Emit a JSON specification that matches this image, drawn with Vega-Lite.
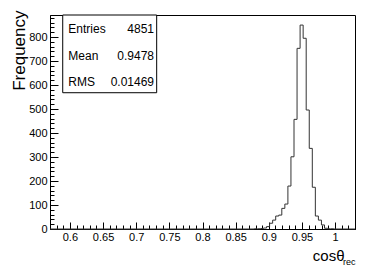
{
  "$schema": "https://vega.github.io/schema/vega-lite/v6.json",
  "autosize": {"type": "none"},
  "padding": {"left": 50, "top": 15, "right": 27, "bottom": 37},
  "width": 305,
  "height": 214,
  "background": "white",
  "config": {
    "font": "Liberation Sans",
    "view": {"stroke": "black", "strokeWidth": 1},
    "axis": {"domainColor": "black", "tickColor": "black", "labelColor": "black", "titleColor": "black", "grid": false, "titleFontWeight": "normal", "labelFont": "Liberation Sans", "titleFont": "Liberation Sans"}
  },
  "datasets": {
    "hist": [
      {"x": 0.57, "count": 0},
      {"x": 0.8782, "count": 1},
      {"x": 0.8828, "count": 1},
      {"x": 0.8874, "count": 2},
      {"x": 0.892, "count": 4},
      {"x": 0.8966, "count": 10},
      {"x": 0.9012, "count": 24},
      {"x": 0.9058, "count": 37},
      {"x": 0.9104, "count": 54},
      {"x": 0.915, "count": 58},
      {"x": 0.9196, "count": 86},
      {"x": 0.9242, "count": 104},
      {"x": 0.9288, "count": 179},
      {"x": 0.9334, "count": 301},
      {"x": 0.938, "count": 457},
      {"x": 0.9426, "count": 753},
      {"x": 0.9472, "count": 850},
      {"x": 0.9518, "count": 795},
      {"x": 0.9564, "count": 496},
      {"x": 0.961, "count": 336},
      {"x": 0.9656, "count": 174},
      {"x": 0.9702, "count": 54},
      {"x": 0.9748, "count": 37},
      {"x": 0.9794, "count": 17},
      {"x": 0.984, "count": 3},
      {"x": 0.9886, "count": 1},
      {"x": 0.9932, "count": 1},
      {"x": 0.9978, "count": 0},
      {"x": 1.03, "count": 0}
    ],
    "stats": [
      {"label": "Entries", "value": "4851"},
      {"label": "Mean", "value": "0.9478"},
      {"label": "RMS", "value": "0.01469"}
    ]
  },
  "layer": [
    {
      "data": {"name": "hist"},
      "mark": {"type": "line", "interpolate": "step-after", "color": "#333", "strokeWidth": 1},
      "encoding": {
        "x": {"field": "x", "type": "quantitative",
          "scale": {"domain": [0.57, 1.03], "nice": false, "zero": false},
          "axis": {"orient": "bottom", "values": [0.6, 0.65, 0.7, 0.75, 0.8, 0.85, 0.9, 0.95, 1.0], "format": "~g", "tickSize": -7, "labelPadding": 9, "labelFontSize": 11, "title": "cosθ", "titleFontSize": 15, "titleAlign": "right", "titleX": 294, "titleY": 31, "titleBaseline": "alphabetic"}},
        "y": {"field": "count", "type": "quantitative",
          "scale": {"domain": [0, 892], "nice": false},
          "axis": {"orient": "left", "values": [0, 100, 200, 300, 400, 500, 600, 700, 800], "tickSize": -8, "labelPadding": 11, "labelFontSize": 11, "title": "Frequency", "titleFontSize": 17, "titleAlign": "right", "titleX": -26, "titleY": -5, "titleBaseline": "alphabetic"}}
      }
    },
    {
      "data": {"values": [{}]},
      "mark": {"type": "rect", "fill": "white", "stroke": "black", "strokeWidth": 1},
      "encoding": {
        "x": {"datum": 0.5892, "type": "quantitative",
          "axis": {"orient": "bottom", "values": [0.57, 0.58, 0.59, 0.61, 0.62, 0.63, 0.64, 0.66, 0.67, 0.68, 0.69, 0.71, 0.72, 0.73, 0.74, 0.76, 0.77, 0.78, 0.79, 0.81, 0.82, 0.83, 0.84, 0.86, 0.87, 0.88, 0.89, 0.91, 0.92, 0.93, 0.94, 0.96, 0.97, 0.98, 0.99, 1.01, 1.02, 1.03], "tickSize": -4, "labels": false, "domain": false, "title": "rec", "titleFontSize": 9, "titleAlign": "right", "titleX": 305, "titleY": 35, "titleBaseline": "alphabetic"}},
        "x2": {"datum": 0.7309},
        "y": {"datum": 892, "type": "quantitative",
          "axis": {"orient": "left", "values": [20, 40, 60, 80, 120, 140, 160, 180, 220, 240, 260, 280, 320, 340, 360, 380, 420, 440, 460, 480, 520, 540, 560, 580, 620, 640, 660, 680, 720, 740, 760, 780, 820, 840, 860, 880], "tickSize": -4, "labels": false, "domain": false, "title": null}},
        "y2": {"datum": 568}
      }
    },
    {
      "data": {"name": "stats"},
      "transform": [{"filter": "datum.label === 'Entries'"}],
      "layer": [
        {"mark": {"type": "text", "align": "left", "baseline": "alphabetic", "fontSize": 12, "font": "Liberation Sans", "color": "black"},
         "encoding": {"x": {"datum": 0.5976, "axis": null}, "y": {"datum": 816, "axis": null}, "text": {"field": "label"}}},
        {"mark": {"type": "text", "align": "right", "baseline": "alphabetic", "fontSize": 12, "font": "Liberation Sans", "color": "black"},
         "encoding": {"x": {"datum": 0.7269, "axis": null}, "y": {"datum": 816, "axis": null}, "text": {"field": "value"}}}
      ]
    },
    {
      "data": {"name": "stats"},
      "transform": [{"filter": "datum.label === 'Mean'"}],
      "layer": [
        {"mark": {"type": "text", "align": "left", "baseline": "alphabetic", "fontSize": 12, "font": "Liberation Sans", "color": "black"},
         "encoding": {"x": {"datum": 0.5976, "axis": null}, "y": {"datum": 704, "axis": null}, "text": {"field": "label"}}},
        {"mark": {"type": "text", "align": "right", "baseline": "alphabetic", "fontSize": 12, "font": "Liberation Sans", "color": "black"},
         "encoding": {"x": {"datum": 0.7269, "axis": null}, "y": {"datum": 704, "axis": null}, "text": {"field": "value"}}}
      ]
    },
    {
      "data": {"name": "stats"},
      "transform": [{"filter": "datum.label === 'RMS'"}],
      "layer": [
        {"mark": {"type": "text", "align": "left", "baseline": "alphabetic", "fontSize": 12, "font": "Liberation Sans", "color": "black"},
         "encoding": {"x": {"datum": 0.5976, "axis": null}, "y": {"datum": 597, "axis": null}, "text": {"field": "label"}}},
        {"mark": {"type": "text", "align": "right", "baseline": "alphabetic", "fontSize": 12, "font": "Liberation Sans", "color": "black"},
         "encoding": {"x": {"datum": 0.7269, "axis": null}, "y": {"datum": 597, "axis": null}, "text": {"field": "value"}}}
      ]
    }
  ],
  "resolve": {"axis": {"x": "independent", "y": "independent"}}
}
